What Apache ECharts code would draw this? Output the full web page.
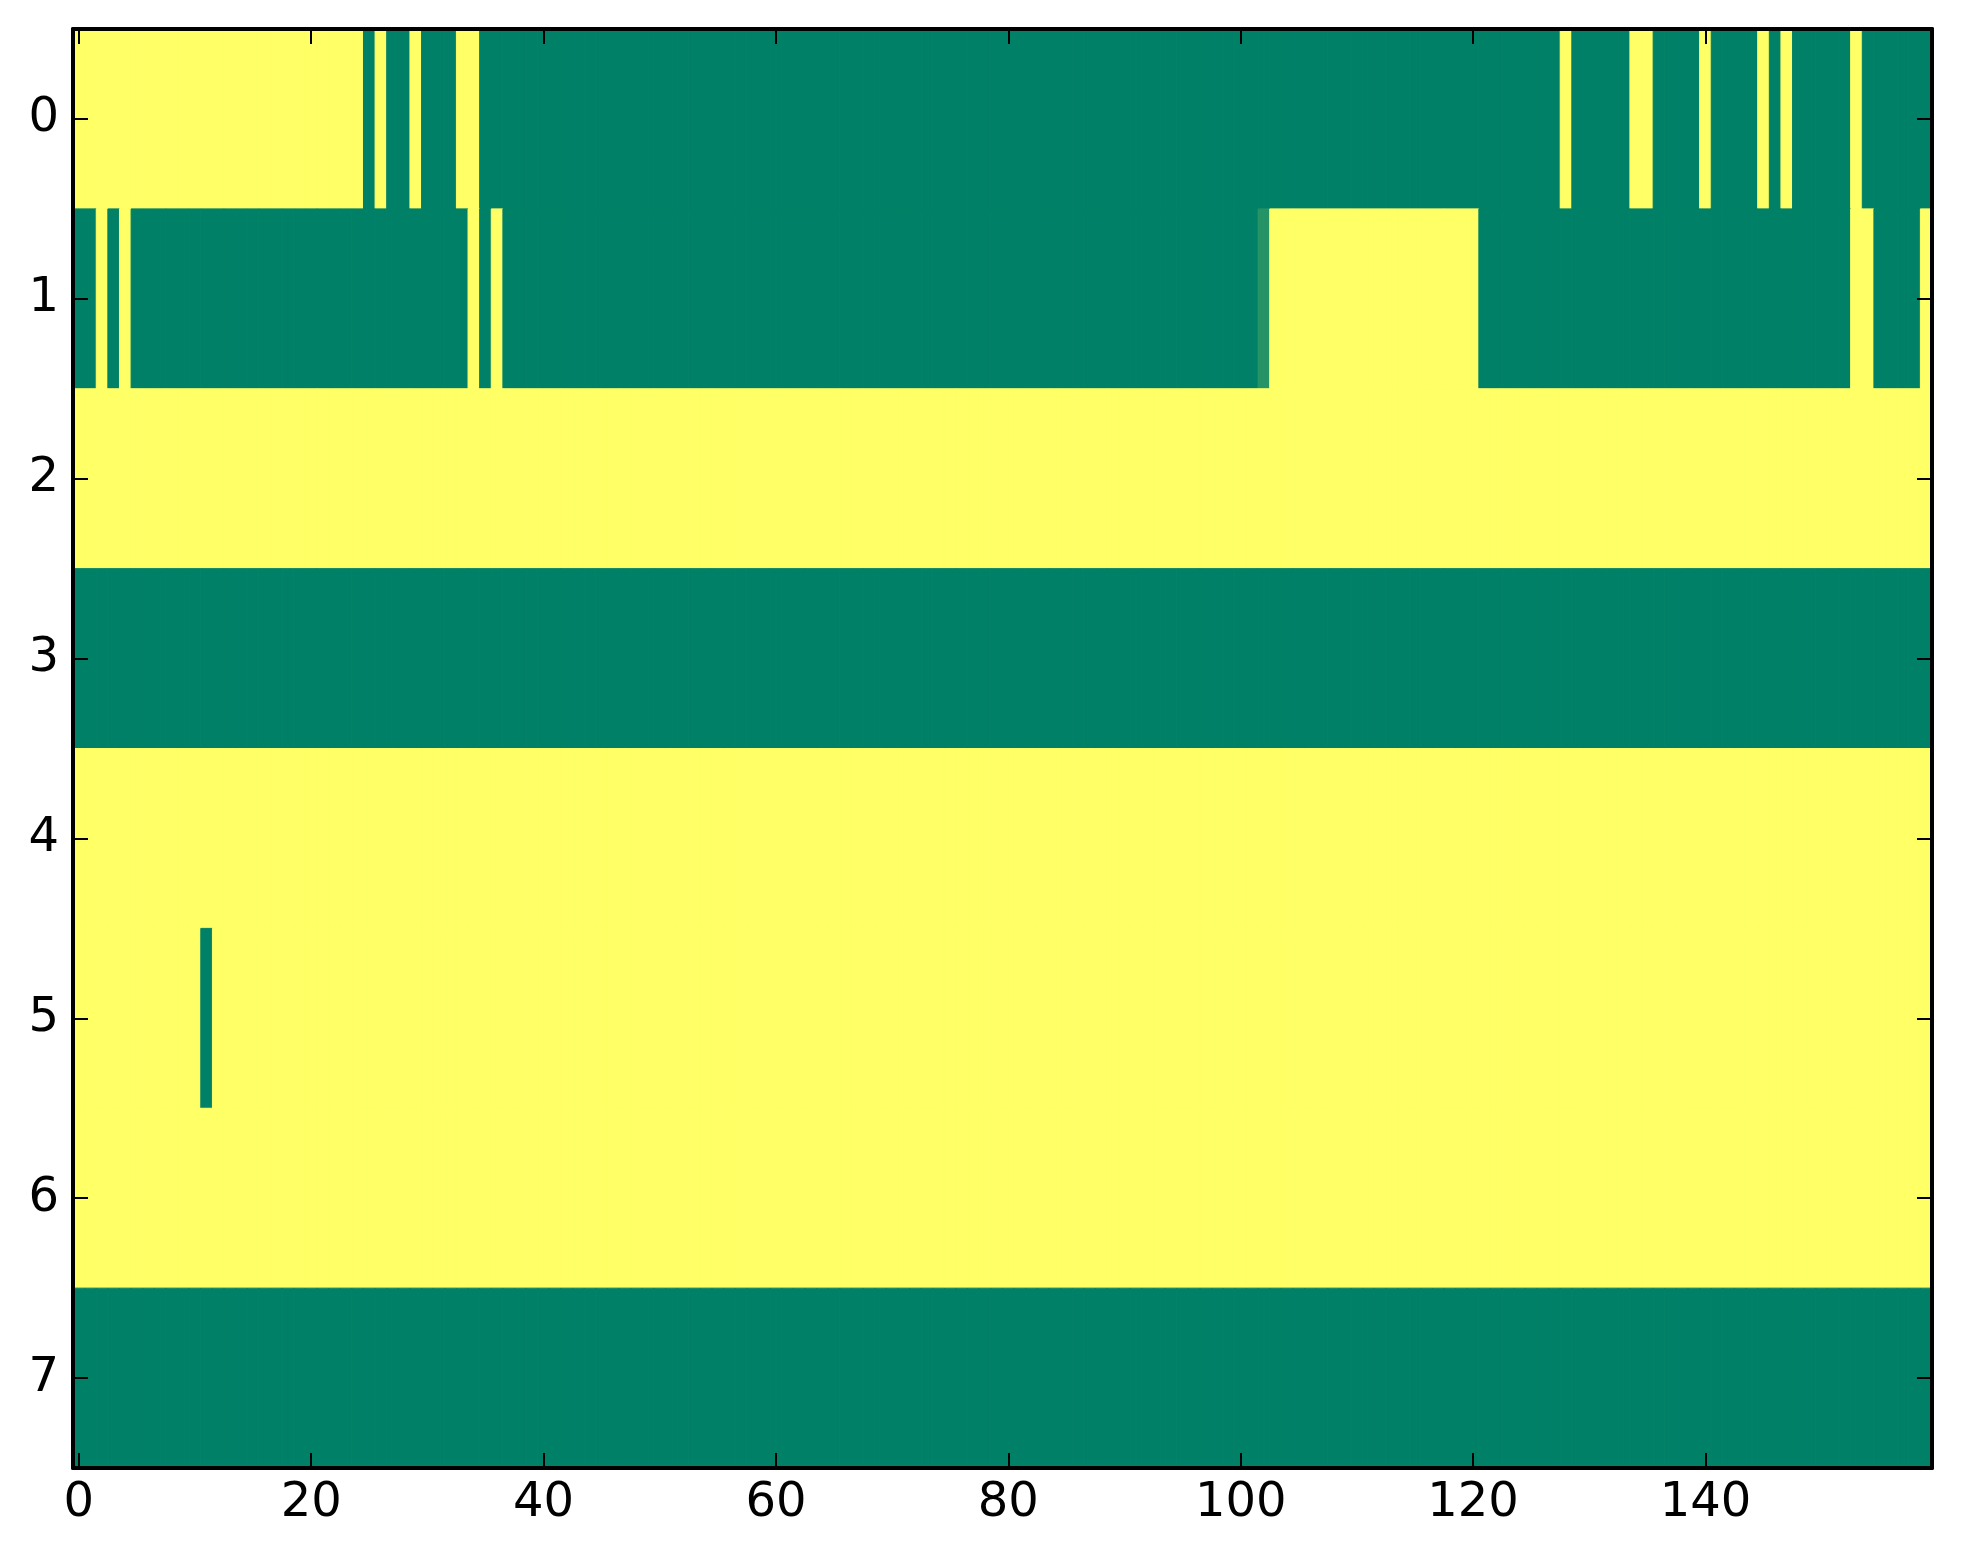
<!DOCTYPE html>
<html>
<head>
<meta charset="utf-8">
<script src="https://cdn.jsdelivr.net/npm/echarts@6/dist/echarts.min.js"></script>
<style>
html, body { margin: 0; padding: 0; background: #ffffff; }
#chart { width: 1963px; height: 1564px; }
</style>
</head>
<body>
<div id="chart"></div>
<script>
// Column indices 0..159 and row labels 0..7
const xCategories = Array.from({length: 160}, (_, i) => String(i));
const yCategories = ['0', '1', '2', '3', '4', '5', '6', '7'];

// Cell values (1 = yellow, 0 = green)
const row0 = [
  1,1,1,1,1,1,1,1,1,1, 1,1,1,1,1,1,1,1,1,1, 1,1,1,1,1,0,1,0,0,1,
  0,0,0,1,1,0,0,0,0,0, 0,0,0,0,0,0,0,0,0,0, 0,0,0,0,0,0,0,0,0,0,
  0,0,0,0,0,0,0,0,0,0, 0,0,0,0,0,0,0,0,0,0, 0,0,0,0,0,0,0,0,0,0,
  0,0,0,0,0,0,0,0,0,0, 0,0,0,0,0,0,0,0,0,0, 0,0,0,0,0,0,0,0,0,0,
  0,0,0,0,0,0,0,0,1,0, 0,0,0,0,1,1,0,0,0,0, 1,0,0,0,0,1,0,1,0,0,
  0,0,0,1,0,0,0,0,0,0
];
const row1 = [
  0,0,1,0,1,0,0,0,0,0, 0,0,0,0,0,0,0,0,0,0, 0,0,0,0,0,0,0,0,0,0,
  0,0,0,0,1,0,1,0,0,0, 0,0,0,0,0,0,0,0,0,0, 0,0,0,0,0,0,0,0,0,0,
  0,0,0,0,0,0,0,0,0,0, 0,0,0,0,0,0,0,0,0,0, 0,0,0,0,0,0,0,0,0,0,
  0,0,0,0,0,0,0,0,0,0, 0,0,0.15,1,1,1,1,1,1,1, 1,1,1,1,1,1,1,1,1,1,
  1,0,0,0,0,0,0,0,0,0, 0,0,0,0,0,0,0,0,0,0, 0,0,0,0,0,0,0,0,0,0,
  0,0,0,1,1,0,0,0,0,1
];
const row2 = [
  1,1,1,1,1,1,1,1,1,1, 1,1,1,1,1,1,1,1,1,1, 1,1,1,1,1,1,1,1,1,1,
  1,1,1,1,1,1,1,1,1,1, 1,1,1,1,1,1,1,1,1,1, 1,1,1,1,1,1,1,1,1,1,
  1,1,1,1,1,1,1,1,1,1, 1,1,1,1,1,1,1,1,1,1, 1,1,1,1,1,1,1,1,1,1,
  1,1,1,1,1,1,1,1,1,1, 1,1,1,1,1,1,1,1,1,1, 1,1,1,1,1,1,1,1,1,1,
  1,1,1,1,1,1,1,1,1,1, 1,1,1,1,1,1,1,1,1,1, 1,1,1,1,1,1,1,1,1,1,
  1,1,1,1,1,1,1,1,1,1
];
const row3 = [
  0,0,0,0,0,0,0,0,0,0, 0,0,0,0,0,0,0,0,0,0, 0,0,0,0,0,0,0,0,0,0,
  0,0,0,0,0,0,0,0,0,0, 0,0,0,0,0,0,0,0,0,0, 0,0,0,0,0,0,0,0,0,0,
  0,0,0,0,0,0,0,0,0,0, 0,0,0,0,0,0,0,0,0,0, 0,0,0,0,0,0,0,0,0,0,
  0,0,0,0,0,0,0,0,0,0, 0,0,0,0,0,0,0,0,0,0, 0,0,0,0,0,0,0,0,0,0,
  0,0,0,0,0,0,0,0,0,0, 0,0,0,0,0,0,0,0,0,0, 0,0,0,0,0,0,0,0,0,0,
  0,0,0,0,0,0,0,0,0,0
];
const row4 = [
  1,1,1,1,1,1,1,1,1,1, 1,1,1,1,1,1,1,1,1,1, 1,1,1,1,1,1,1,1,1,1,
  1,1,1,1,1,1,1,1,1,1, 1,1,1,1,1,1,1,1,1,1, 1,1,1,1,1,1,1,1,1,1,
  1,1,1,1,1,1,1,1,1,1, 1,1,1,1,1,1,1,1,1,1, 1,1,1,1,1,1,1,1,1,1,
  1,1,1,1,1,1,1,1,1,1, 1,1,1,1,1,1,1,1,1,1, 1,1,1,1,1,1,1,1,1,1,
  1,1,1,1,1,1,1,1,1,1, 1,1,1,1,1,1,1,1,1,1, 1,1,1,1,1,1,1,1,1,1,
  1,1,1,1,1,1,1,1,1,1
];
const row5 = [
  1,1,1,1,1,1,1,1,1,1, 1,0,1,1,1,1,1,1,1,1, 1,1,1,1,1,1,1,1,1,1,
  1,1,1,1,1,1,1,1,1,1, 1,1,1,1,1,1,1,1,1,1, 1,1,1,1,1,1,1,1,1,1,
  1,1,1,1,1,1,1,1,1,1, 1,1,1,1,1,1,1,1,1,1, 1,1,1,1,1,1,1,1,1,1,
  1,1,1,1,1,1,1,1,1,1, 1,1,1,1,1,1,1,1,1,1, 1,1,1,1,1,1,1,1,1,1,
  1,1,1,1,1,1,1,1,1,1, 1,1,1,1,1,1,1,1,1,1, 1,1,1,1,1,1,1,1,1,1,
  1,1,1,1,1,1,1,1,1,1
];
const row6 = [
  1,1,1,1,1,1,1,1,1,1, 1,1,1,1,1,1,1,1,1,1, 1,1,1,1,1,1,1,1,1,1,
  1,1,1,1,1,1,1,1,1,1, 1,1,1,1,1,1,1,1,1,1, 1,1,1,1,1,1,1,1,1,1,
  1,1,1,1,1,1,1,1,1,1, 1,1,1,1,1,1,1,1,1,1, 1,1,1,1,1,1,1,1,1,1,
  1,1,1,1,1,1,1,1,1,1, 1,1,1,1,1,1,1,1,1,1, 1,1,1,1,1,1,1,1,1,1,
  1,1,1,1,1,1,1,1,1,1, 1,1,1,1,1,1,1,1,1,1, 1,1,1,1,1,1,1,1,1,1,
  1,1,1,1,1,1,1,1,1,1
];
const row7 = [
  0,0,0,0,0,0,0,0,0,0, 0,0,0,0,0,0,0,0,0,0, 0,0,0,0,0,0,0,0,0,0,
  0,0,0,0,0,0,0,0,0,0, 0,0,0,0,0,0,0,0,0,0, 0,0,0,0,0,0,0,0,0,0,
  0,0,0,0,0,0,0,0,0,0, 0,0,0,0,0,0,0,0,0,0, 0,0,0,0,0,0,0,0,0,0,
  0,0,0,0,0,0,0,0,0,0, 0,0,0,0,0,0,0,0,0,0, 0,0,0,0,0,0,0,0,0,0,
  0,0,0,0,0,0,0,0,0,0, 0,0,0,0,0,0,0,0,0,0, 0,0,0,0,0,0,0,0,0,0,
  0,0,0,0,0,0,0,0,0,0
];
const rows = [row0, row1, row2, row3, row4, row5, row6, row7];

// 'summer' colormap end points
const colorLow = '#008066';
const colorHigh = '#ffff66';

const heatData = [];
rows.forEach((r, yi) => r.forEach((v, xi) => heatData.push([xi, yi, v])));

const labelFont = { fontFamily: 'DejaVu Sans', fontSize: 48, color: '#000000' };
const lineStyle = { color: '#000000', width: 4 };
const tickStyle = { color: '#000000', width: 2 };

function renderCell(params, api) {
  const c = api.coord([api.value(0), api.value(1)]);
  const s = api.size([1, 1]);
  const col = api.visual('color');
  return {
    type: 'rect',
    shape: { x: c[0] - s[0] / 2, y: c[1] - s[1] / 2, width: s[0], height: s[1] },
    style: { fill: col, stroke: col, lineWidth: 1 }
  };
}

const chart = echarts.init(document.getElementById('chart'), null, { renderer: 'canvas' });
chart.setOption({
  animation: false,
  backgroundColor: '#ffffff',
  grid: { left: 73, top: 29, width: 1859, height: 1439, containLabel: false },
  visualMap: {
    show: false, type: 'continuous', min: 0, max: 1, dimension: 2, seriesIndex: 0,
    inRange: { color: [colorLow, colorHigh] }
  },
  xAxis: [
    {
      type: 'category', data: xCategories, position: 'bottom',
      axisLine: { show: true, lineStyle: lineStyle },
      axisTick: { show: true, inside: true, length: 15, interval: 19, alignWithLabel: true, lineStyle: tickStyle },
      axisLabel: Object.assign({ show: true, interval: 19, margin: 12 }, labelFont),
      splitLine: { show: false }, z: 10
    },
    {
      type: 'category', data: xCategories, position: 'top',
      axisLine: { show: true, lineStyle: lineStyle },
      axisTick: { show: true, inside: true, length: 15, interval: 19, alignWithLabel: true, lineStyle: tickStyle },
      axisLabel: { show: false },
      splitLine: { show: false }, z: 10
    }
  ],
  yAxis: [
    {
      type: 'category', data: yCategories, inverse: true, position: 'left',
      axisLine: { show: true, lineStyle: lineStyle },
      axisTick: { show: true, inside: true, length: 15, alignWithLabel: true, lineStyle: tickStyle },
      axisLabel: Object.assign({ show: true, margin: 14 }, labelFont),
      splitLine: { show: false }, z: 10
    },
    {
      type: 'category', data: yCategories, inverse: true, position: 'right',
      axisLine: { show: true, lineStyle: lineStyle },
      axisTick: { show: true, inside: true, length: 15, alignWithLabel: true, lineStyle: tickStyle },
      axisLabel: { show: false },
      splitLine: { show: false }, z: 10
    }
  ],
  series: [{
    type: 'custom',
    xAxisIndex: 0, yAxisIndex: 0,
    data: heatData,
    encode: { x: 0, y: 1 },
    renderItem: renderCell,
    clip: true,
    silent: true
  }]
});
</script>
</body>
</html>
